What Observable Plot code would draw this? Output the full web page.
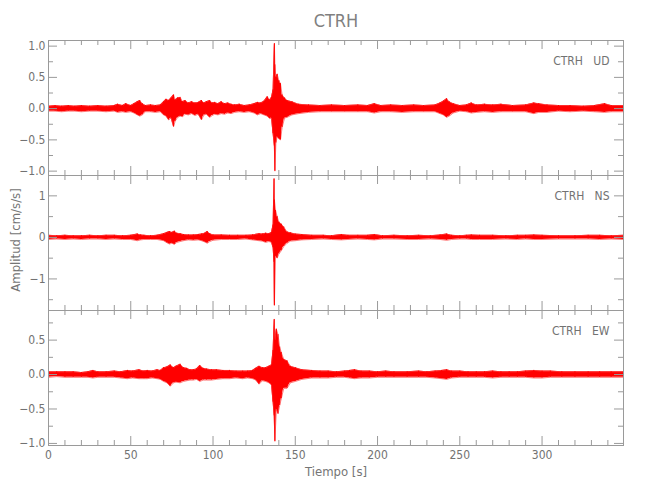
<!DOCTYPE html>
<html><head><meta charset="utf-8">
<script src="https://cdn.jsdelivr.net/npm/d3@7"></script>
<script src="https://cdn.jsdelivr.net/npm/@observablehq/plot@0.6"></script>
<style>
body{margin:0;background:#fff;}
#chart{position:relative;width:650px;height:500px;font-family:"Liberation Sans Narrow","DejaVu Sans Condensed","Liberation Sans",sans-serif;color:#757575;}
.lbl{position:absolute;white-space:pre;line-height:1;}
.pnl{position:absolute;left:0;}
</style></head><body><div id="chart"></div><script>
// ---- data ----
const title = "CTRH";
const yTitle = "Amplitud [cm/s/s]";
const xTitle = "Tiempo [s]";
const xMajor = [0, 50, 100, 150, 200, 250, 300];
const xMajorLabels = ["0", "50", "100", "150", "200", "250", "300"];
const xMinor = [10,20,30,40,60,70,80,90,110,120,130,140,160,170,180,190,210,220,230,240,260,270,280,290,310,320,330,340];

// envelopes: [time s, upper, lower]
const udEnv = [[0,.04,-.04],[4,.05,-.04],[8,.04,-.05],[12,.05,-.04],[16,.04,-.04],[20,.05,-.05],[25,.04,-.04],[30,.05,-.04],[35,.04,-.05],[40,.05,-.04],[42,.07,-.06],[45,.05,-.05],[47,.08,-.06],[50,.05,-.05],[52,.08,-.07],[54,.11,-.10],[55.5,.13,-.12],[57,.08,-.10],[59,.05,-.05],[62,.06,-.05],[65,.05,-.06],[68,.06,-.05],[70,.11,-.10],[71.5,.15,-.12],[73,.13,-.18],[74.5,.17,-.15],[76,.22,-.29],[77,.14,-.20],[78.5,.17,-.14],[80,.18,-.12],[81.5,.11,-.13],[83,.13,-.09],[85,.09,-.10],[87,.11,-.08],[89,.09,-.11],[91,.10,-.09],[93,.13,-.18],[94.5,.09,-.10],[96,.11,-.09],[98,.13,-.14],[99.5,.09,-.11],[101,.10,-.09],[103,.08,-.10],[105,.11,-.08],[107,.08,-.09],[109,.09,-.07],[111,.07,-.08],[113,.06,-.06],[116,.07,-.05],[119,.05,-.06],[122,.06,-.05],[125,.08,-.07],[127,.10,-.10],[129,.09,-.08],[131,.12,-.10],[133,.19,-.12],[134.5,.14,-.16],[135.5,.18,-.15],[136.5,.30,-.40],[137.3,1.04,-.60],[137.6,.70,-1.00],[138.2,.50,-.55],[139,.55,-.45],[140,.45,-.48],[141,.40,-.50],[142,.22,-.30],[143.5,.17,-.15],[145,.13,-.14],[148,.11,-.10],[152,.07,-.08],[158,.06,-.06],[165,.05,-.05],[172,.06,-.05],[180,.05,-.05],[188,.06,-.05],[194,.05,-.05],[198,.08,-.07],[202,.05,-.05],[208,.06,-.05],[215,.05,-.06],[222,.06,-.05],[228,.05,-.05],[235,.06,-.05],[238,.09,-.08],[240,.12,-.10],[242,.16,-.14],[243.5,.11,-.12],[246,.08,-.07],[250,.05,-.04],[254,.06,-.05],[257,.09,-.07],[260,.06,-.06],[265,.07,-.05],[270,.06,-.06],[275,.07,-.05],[282,.05,-.05],[290,.06,-.05],[295,.09,-.08],[298,.08,-.06],[303,.06,-.06],[310,.05,-.04],[317,.05,-.05],[325,.04,-.04],[332,.05,-.05],[338,.08,-.06],[342,.05,-.05],[349.5,.05,-.05]];

const nsEnv = [[0,.05,-.05],[5,.04,-.04],[10,.05,-.05],[15,.04,-.04],[20,.04,-.05],[25,.05,-.04],[30,.04,-.04],[35,.05,-.05],[40,.05,-.04],[45,.04,-.05],[50,.05,-.05],[54,.08,-.08],[56,.06,-.06],[58,.05,-.05],[62,.04,-.05],[66,.05,-.05],[70,.09,-.08],[72,.12,-.13],[73.5,.14,-.16],[75,.12,-.14],[76.5,.15,-.17],[78,.10,-.12],[80,.09,-.10],[82,.07,-.08],[85,.06,-.06],[88,.06,-.07],[91,.07,-.06],[93,.08,-.08],[95,.10,-.11],[96.5,.14,-.14],[98,.09,-.10],[100,.06,-.07],[105,.06,-.05],[110,.05,-.05],[115,.05,-.05],[120,.05,-.04],[124,.06,-.06],[128,.09,-.08],[130,.08,-.09],[132,.10,-.12],[134,.09,-.10],[135.5,.12,-.12],[136.5,.30,-.25],[137.1,1.41,-.60],[137.3,.90,-1.64],[138,.65,-.45],[139,.50,-.50],[140,.37,-.40],[141.5,.32,-.32],[143,.25,-.22],[145,.13,-.14],[147,.11,-.09],[150,.08,-.08],[154,.07,-.06],[160,.05,-.05],[167,.05,-.04],[172,.04,-.05],[178,.07,-.06],[182,.05,-.05],[188,.05,-.04],[194,.05,-.05],[198,.07,-.06],[203,.04,-.04],[210,.05,-.04],[218,.04,-.05],[225,.05,-.05],[232,.04,-.04],[238,.06,-.05],[242,.08,-.07],[245,.05,-.05],[250,.04,-.04],[254,.05,-.04],[257,.06,-.05],[262,.05,-.05],[270,.05,-.05],[278,.04,-.04],[285,.05,-.05],[290,.05,-.04],[295,.06,-.05],[300,.05,-.05],[310,.04,-.04],[320,.04,-.04],[328,.05,-.04],[335,.05,-.05],[342,.04,-.04],[349.5,.05,-.05]];

const ewEnv = [[0,.04,-.04],[5,.04,-.03],[10,.04,-.04],[15,.04,-.04],[20,.03,-.04],[24,.04,-.04],[27,.06,-.05],[30,.04,-.04],[35,.04,-.04],[40,.05,-.04],[44,.04,-.05],[48,.06,-.06],[51,.05,-.05],[55,.07,-.06],[58,.05,-.06],[60,.06,-.06],[63,.05,-.05],[66,.07,-.06],[68,.06,-.07],[70,.10,-.10],[72,.11,-.12],[74,.14,-.17],[76,.10,-.12],[77.5,.12,-.11],[80,.15,-.12],[82,.10,-.10],[84,.09,-.09],[86,.07,-.08],[88,.07,-.08],[90,.08,-.07],[92,.13,-.10],[94,.09,-.08],[96,.08,-.08],[99,.07,-.08],[102,.07,-.07],[106,.06,-.06],[110,.06,-.06],[114,.05,-.05],[118,.05,-.06],[121,.05,-.05],[124,.06,-.06],[126,.09,-.08],[128,.12,-.14],[130,.10,-.09],[132,.10,-.10],[134,.12,-.12],[135.5,.14,-.15],[136.5,.35,-.40],[137.2,.80,-.60],[137.6,.50,-.97],[138.5,.66,-.50],[139.5,.58,-.57],[140.5,.40,-.45],[141.5,.32,-.35],[143,.22,-.20],[145,.20,-.20],[147,.12,-.12],[150,.10,-.10],[154,.07,-.07],[160,.06,-.05],[165,.05,-.05],[170,.05,-.05],[175,.04,-.04],[180,.05,-.04],[183,.06,-.05],[186,.07,-.06],[190,.05,-.05],[195,.05,-.05],[200,.04,-.04],[205,.05,-.04],[210,.04,-.04],[218,.04,-.04],[225,.05,-.04],[230,.04,-.04],[235,.05,-.05],[239,.06,-.06],[242,.07,-.07],[245,.05,-.05],[250,.05,-.04],[255,.04,-.04],[260,.04,-.04],[265,.04,-.04],[270,.05,-.05],[275,.04,-.04],[280,.04,-.04],[285,.04,-.04],[290,.05,-.04],[295,.06,-.05],[300,.05,-.05],[305,.05,-.04],[312,.04,-.04],[320,.04,-.04],[328,.04,-.04],[335,.04,-.04],[342,.04,-.04],[349.5,.04,-.04]];

const udYMajor = [-1, -0.5, 0, 0.5, 1];
const udYLabels = ["−1.0", "−0.5", "0.0", "0.5", "1.0"];
const udYMinor = [-0.75, -0.25, 0.25, 0.75];
const nsYMajor = [-1, 0, 1];
const nsYLabels = ["−1", "0", "1"];
const nsYMinor = [-1.5, -0.5, 0.5];
const ewYMajor = [-1, -0.5, 0, 0.5];
const ewYLabels = ["−1.0", "−0.5", "0.0", "0.5"];
const ewYMinor = [-0.75, -0.25, 0.25, 0.75];

const panelNames = ["CTRH   UD", "CTRH   NS", "CTRH   EW"];

// ---- layout ----
const W = 650, H = 135, ML = 48, MR = 27;
const xDomain = [0, 349.5];
const axisColor = "#9a9a9a", textColor = "#727272";
const fontFamily = '"Liberation Sans Narrow","DejaVu Sans Condensed","Liberation Sans",sans-serif';

const panels = [
  {name: panelNames[0], env: udEnv, domain: [-1.07, 1.09], major: udYMajor, labels: udYLabels, minor: udYMinor, top: 40},
  {name: panelNames[1], env: nsEnv, domain: [-1.76, 1.49], major: nsYMajor, labels: nsYLabels, minor: nsYMinor, top: 175},
  {name: panelNames[2], env: ewEnv, domain: [-1.03, 0.93], major: ewYMajor, labels: ewYLabels, minor: ewYMinor, top: 310}
];

const chart = document.getElementById("chart");

function addLabel(text, css) {
  const d = document.createElement("div");
  d.className = "lbl";
  d.textContent = text;
  Object.assign(d.style, css);
  chart.appendChild(d);
  return d;
}

panels.forEach((p, idx) => {
  const [y0, y1] = p.domain;
  const kY = (y1 - y0) / H;
  const kX = (xDomain[1] - xDomain[0]) / (W - ML - MR);
  const data = p.env.map(([t, hi, lo]) => ({t, hi, lo}));
  const X0 = xDomain[0], X1 = xDomain[1];
  const minor = p.minor.filter(v => v > y0 && v < y1);
  const marks = [
    Plot.areaY(data, {x: "t", y1: "lo", y2: "hi", fill: "#ff0000"}),
    Plot.line(data, {x: "t", y: "hi", stroke: "#ff4040", strokeWidth: 1, strokeOpacity: 0.7}),
    Plot.line(data, {x: "t", y: "lo", stroke: "#ff4040", strokeWidth: 1, strokeOpacity: 0.7}),
    Plot.ruleX(data, {x: "t", y1: "lo", y2: "hi", stroke: "#ff0000", strokeWidth: 1}),
    Plot.frame({stroke: axisColor}),
    Plot.ruleX(xMajor, {x: d => d, y1: () => y1, y2: () => y1 - 9 * kY, stroke: axisColor}),
    Plot.ruleX(xMajor, {x: d => d, y1: () => y0, y2: () => y0 + 9 * kY, stroke: axisColor}),
    Plot.ruleX(xMinor, {x: d => d, y1: () => y1, y2: () => y1 - 5 * kY, stroke: axisColor}),
    Plot.ruleX(xMinor, {x: d => d, y1: () => y0, y2: () => y0 + 5 * kY, stroke: axisColor}),
    Plot.ruleY(p.major, {y: d => d, x1: () => X0, x2: () => X0 + 9 * kX, stroke: axisColor}),
    Plot.ruleY(p.major, {y: d => d, x1: () => X1, x2: () => X1 - 9 * kX, stroke: axisColor}),
    Plot.ruleY(minor, {y: d => d, x1: () => X0, x2: () => X0 + 5 * kX, stroke: axisColor}),
    Plot.ruleY(minor, {y: d => d, x1: () => X1, x2: () => X1 - 5 * kX, stroke: axisColor}),
    Plot.text(p.major, {x: () => X0, y: d => d, text: (d, i) => p.labels[i], dx: -3, textAnchor: "end", fill: textColor, fontSize: 12}),
    Plot.text([p.name], {x: () => X1, y: () => y1, text: d => d, dx: -14, dy: 21, textAnchor: "end", fill: textColor, fontSize: 12})
  ];
  if (idx === panels.length - 1) {
    marks.push(Plot.text(xMajor, {x: d => d, y: () => y0, text: (d, i) => xMajorLabels[i], dy: 10, fill: textColor, fontSize: 12}));
  }
  const svg = Plot.plot({
    width: W, height: H,
    marginLeft: ML, marginRight: MR, marginTop: 0, marginBottom: 0,
    x: {domain: xDomain, axis: null},
    y: {domain: p.domain, axis: null},
    style: {background: "transparent", overflow: "visible", fontFamily: fontFamily},
    marks
  });
  const wrap = document.createElement("div");
  wrap.className = "pnl";
  wrap.style.top = p.top + "px";
  wrap.appendChild(svg);
  chart.appendChild(wrap);
});

addLabel(title, {left: "0px", width: "672px", top: "12px", textAlign: "center", fontSize: "18px", color: "#808080"});
addLabel(xTitle, {left: "0px", width: "672px", top: "465px", textAlign: "center", fontSize: "13px"});
const yl = addLabel(yTitle, {left: "15px", top: "240px", fontSize: "13px"});
yl.style.transform = "translate(-50%,-50%) rotate(-90deg)";
</script></body></html>
